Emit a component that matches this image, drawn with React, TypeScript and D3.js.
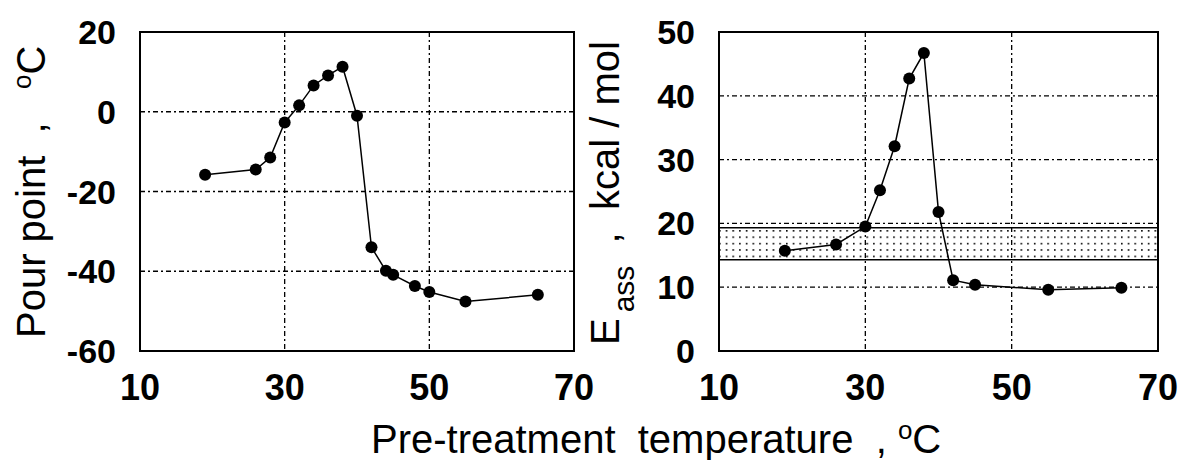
import React from "react";
import * as d3 from "d3";

// valori
const tempPour = [19, 26, 28, 30, 32, 34, 36, 38, 40, 42, 44, 45, 48, 50, 55, 65];
const pourPoint = [-15.8, -14.5, -11.5, -2.7, 1.6, 6.6, 9.1, 11.3, -1, -34, -39.9, -40.9, -43.7, -45.2, -47.6, -45.9];
const tempEass = [19, 26, 30, 32, 34, 36, 38, 40, 42, 45, 55, 65];
const eass = [15.7, 16.7, 19.5, 25.2, 32.1, 42.7, 46.7, 21.8, 11.1, 10.4, 9.6, 9.9];
const bandRange = [14.3, 19.3];

const xTicks = [10, 30, 50, 70];
const xGrid = [30, 50];
const pourTicks = [-60, -40, -20, 0, 20];
const eassTicks = [0, 10, 20, 30, 40, 50];

const W = 1182;
const H = 460;
const top = 32;
const bottom = 351;
const font = "'Liberation Sans', Arial, sans-serif";

type PanelProps = {
  x0: number;
  x1: number;
  xs: number[];
  ys: number[];
  yDomain: [number, number];
  yTicks: number[];
  band?: number[];
};

function Panel({ x0, x1, xs, ys, yDomain, yTicks, band }: PanelProps) {
  const x = d3.scaleLinear().domain([10, 70]).range([x0, x1]);
  const y = d3.scaleLinear().domain(yDomain).range([bottom, top]);
  const line = d3
    .line<number>()
    .x((d, i) => x(xs[i]))
    .y((d) => y(d));
  const dash = "5,3,2,3";
  const inner = yTicks.slice(1, -1);

  return (
    <g>
      {band && (
        <g>
          <rect
            x={x0}
            y={y(band[1])}
            width={x1 - x0}
            height={y(band[0]) - y(band[1])}
            fill="url(#dots)"
          />
          {band.map((b) => (
            <line key={b} x1={x0} x2={x1} y1={y(b)} y2={y(b)} stroke="#000" strokeWidth={1.5} />
          ))}
        </g>
      )}
      {xGrid.map((t) => (
        <line key={"gx" + t} x1={x(t)} x2={x(t)} y1={top} y2={bottom} stroke="#000" strokeWidth={1.3} strokeDasharray={dash} />
      ))}
      {inner.map((t) => (
        <line key={"gy" + t} x1={x0} x2={x1} y1={y(t)} y2={y(t)} stroke="#000" strokeWidth={1.3} strokeDasharray={dash} />
      ))}
      <rect x={x0} y={top} width={x1 - x0} height={bottom - top} fill="none" stroke="#000" strokeWidth={2} />
      <path d={line(ys) || ""} fill="none" stroke="#000" strokeWidth={1.5} />
      {ys.map((v, i) => (
        <circle key={i} cx={x(xs[i])} cy={y(v)} r={6} fill="#000" />
      ))}
      {yTicks.map((t) => (
        <text
          key={"ty" + t}
          x={x0 - 24}
          y={y(t) + 12}
          textAnchor="end"
          fontFamily={font}
          fontWeight="bold"
          fontSize={34}
        >
          {t}
        </text>
      ))}
      {xTicks.map((t) => (
        <text key={"tx" + t} x={x(t)} y={400} textAnchor="middle" fontFamily={font} fontWeight="bold" fontSize={36}>
          {t}
        </text>
      ))}
    </g>
  );
}

export default function App() {
  return (
    <svg
      width={W}
      height={H}
      style={{ position: "absolute", left: 0, top: 0, background: "#fff" }}
    >
      <defs>
        <pattern id="dots" patternUnits="userSpaceOnUse" width={6.7} height={6.4} x={719} y={230}>
          <rect x={0} y={0} width={1.6} height={1.6} fill="#000" />
        </pattern>
      </defs>
      <rect width={W} height={H} fill="#fff" />
      <Panel x0={140} x1={574} xs={tempPour} ys={pourPoint} yDomain={[-60, 20]} yTicks={pourTicks} />
      <Panel x0={719} x1={1158} xs={tempEass} ys={eass} yDomain={[0, 50]} yTicks={eassTicks} band={bandRange} />

      <text
        transform="translate(45,338) rotate(-90)"
        fontFamily={font}
        fontSize={40}
        xmlSpace="preserve"
        style={{ whiteSpace: "pre" }}
      >
        Pour point  ,   <tspan fontSize={26} dy={-14}>o</tspan>
        <tspan dy={14}>C</tspan>
      </text>

      <text
        transform="translate(619,345) rotate(-90)"
        fontFamily={font}
        fontSize={40}
        xmlSpace="preserve"
        style={{ whiteSpace: "pre" }}
      >
        E<tspan fontSize={30} dx={6} dy={15}>ass</tspan>
        <tspan dy={-15}>  ,  kcal / mol</tspan>
      </text>

      <text x={371} y={453} fontFamily={font} fontSize={40} xmlSpace="preserve" style={{ whiteSpace: "pre" }}>
        Pre-treatment  temperature  , <tspan fontSize={26} dy={-14}>o</tspan>
        <tspan dy={14}>C</tspan>
      </text>
    </svg>
  );
}
